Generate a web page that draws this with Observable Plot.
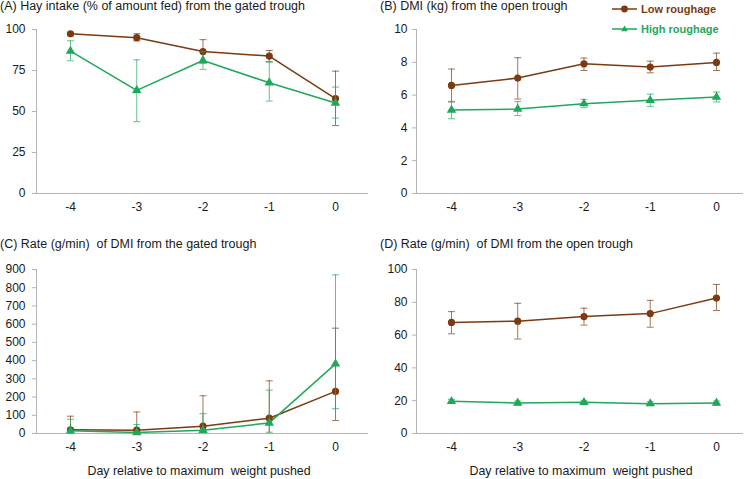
<!DOCTYPE html>
<html><head><meta charset="utf-8">
<script src="https://cdn.jsdelivr.net/npm/d3@7"></script>
<script src="https://cdn.jsdelivr.net/npm/@observablehq/plot@0.6"></script>
<style>
html,body{margin:0;padding:0;background:#fff;}
#root{position:relative;width:750px;height:479px;font-family:"Liberation Sans",Arial,sans-serif;color:#1a1a1a;overflow:hidden;}
.panel{position:absolute;}
.title{position:absolute;font-size:12.5px;line-height:14px;white-space:pre;color:#1a1a1a;}
.xlab{position:absolute;font-size:12.4px;line-height:14px;white-space:pre;transform:translateX(-50%);}
.leg{position:absolute;font-size:11px;font-weight:bold;white-space:nowrap;display:flex;align-items:center;}
</style></head>
<body><div id="root"></div>
<script>
const days = [-4, -3, -2, -1, 0];
const seriesNames = ["Low roughage", "High roughage"];
const colors = ["#7c3a12", "#1ea85a"];

// (A) Hay intake (%)
const aLow = [97.4, 95.0, 86.6, 83.8, 57.8];
const aLowLo = [96.4, 93.0, 79.5, 80.4, 41.4];
const aLowHi = [98.3, 97.4, 93.8, 87.2, 74.6];
const aHigh = [86.8, 62.9, 81.1, 67.5, 55.2];
const aHighLo = [80.9, 43.8, 75.7, 56.4, 46.0];
const aHighHi = [93.1, 81.5, 86.5, 80.1, 64.9];
// (B) DMI (kg)
const bLow = [6.59, 7.04, 7.91, 7.71, 7.99];
const bLowLo = [5.58, 5.76, 7.50, 7.36, 7.50];
const bLowHi = [7.59, 8.28, 8.26, 8.07, 8.56];
const bHigh = [5.09, 5.15, 5.48, 5.68, 5.88];
const bHighLo = [4.56, 4.75, 5.23, 5.31, 5.58];
const bHighHi = [5.62, 5.60, 5.74, 6.06, 6.19];
// (C) Rate gated
const cLow = [20, 18, 40, 84, 231];
const cLowLo = [0, 0, 0, 0, 71];
const cLowHi = [95, 118, 207, 289, 578];
const cHigh = [15, 5, 18, 58, 382];
const cHighLo = [0, 0, 0, 7, 136];
const cHighHi = [78, 49, 109, 238, 871];
// (D) Rate open
const dLow = [67.7, 68.5, 71.3, 73.1, 82.6];
const dLowLo = [60.8, 57.6, 66.1, 64.8, 75.0];
const dLowHi = [74.3, 79.4, 76.4, 81.2, 90.9];
const dHigh = [19.6, 18.6, 19.0, 18.2, 18.6];
const dHighLo = [18.4, 17.4, 17.8, 17.0, 17.4];
const dHighHi = [20.8, 19.8, 20.2, 19.4, 19.8];

const titles = [
  "(A) Hay intake (% of amount fed) from the gated trough",
  "(B) DMI (kg) from the open trough",
  "(C) Rate (g/min)  of DMI from the gated trough",
  "(D) Rate (g/min)  of DMI from the open trough"
];
const yTicks = [[0,25,50,75,100],[0,2,4,6,8,10],[0,100,200,300,400,500,600,700,800,900],[0,20,40,60,80,100]];
const xLabel = "Day relative to maximum  weight pushed";

function rows(low, lowLo, lowHi, high, highLo, highHi) {
  const out = [];
  days.forEach((d, i) => {
    out.push({day: d, s: 0, v: low[i], lo: lowLo[i], hi: lowHi[i]});
  });
  days.forEach((d, i) => {
    out.push({day: d, s: 1, v: high[i], lo: highLo[i], hi: highHi[i]});
  });
  return out;
}
const panels = [
  {data: rows(aLow,aLowLo,aLowHi,aHigh,aHighLo,aHighHi), ymax: 100, left: 0, top: 0, ml: 36, xd: [-4.513, 0.498], pad: 7},
  {data: rows(bLow,bLowLo,bLowHi,bHigh,bHighLo,bHighHi), ymax: 10, left: 375, top: 0, ml: 41, xd: [-4.528, 0.408], pad: 5},
  {data: rows(cLow,cLowLo,cLowHi,cHigh,cHighLo,cHighHi), ymax: 900, left: 0, top: 240, ml: 36, xd: [-4.513, 0.498], pad: 7},
  {data: rows(dLow,dLowLo,dLowHi,dHigh,dHighLo,dHighHi), ymax: 100, left: 375, top: 240, ml: 41, xd: [-4.528, 0.408], pad: 5}
];

const capSymbol = {draw(ctx, size) { const r = Math.sqrt(size / Math.PI); ctx.moveTo(-r, 0); ctx.lineTo(r, 0); }};
const root = document.getElementById("root");
const axisGray = "#b4b4b4";

panels.forEach((p, k) => {
  const low = p.data.filter(d => d.s === 0), high = p.data.filter(d => d.s === 1);
  const marks = [
    Plot.ruleY([0], {stroke: axisGray, strokeWidth: 1}),
    Plot.ruleX([p.xd[0]], {stroke: axisGray, strokeWidth: 1}),
    Plot.axisY({ticks: yTicks[k], tickSize: 4, tickPadding: p.pad, stroke: axisGray, fill: "#1a1a1a", label: null, fontSize: 12, tickFormat: d => String(d)}),
    Plot.axisX({ticks: days, tickSize: 0, tickPadding: 9, fill: "#1a1a1a", label: null, fontSize: 12, tickFormat: d => String(d)})
  ];
  [0, 1].forEach(s => {
    const ser = s === 0 ? low : high;
    const c = colors[s];
    marks.push(
      Plot.ruleX(ser, {x: "day", y1: d => Math.max(0, d.lo), y2: "hi", stroke: c, strokeOpacity: 0.7, strokeWidth: 1}),
      Plot.dot(ser, {x: "day", y: "hi", symbol: capSymbol, r: 3.5, stroke: c, strokeOpacity: 0.7, strokeWidth: 1}),
      Plot.dot(ser.filter(d => d.lo > 0), {x: "day", y: "lo", symbol: capSymbol, r: 3.5, stroke: c, strokeOpacity: 0.7, strokeWidth: 1}),
      Plot.line(ser, {x: "day", y: "v", stroke: c, strokeWidth: 1.5}),
      s === 0
        ? Plot.dot(ser, {x: "day", y: "v", r: 3.6, fill: c, stroke: null, symbol: "circle"})
        : Plot.dot(ser, {x: "day", y: "v", r: 3.5, fill: c, stroke: null, symbol: "triangle"})
    );
  });
  const chart = Plot.plot({
    width: 375, height: 240,
    marginLeft: p.ml, marginRight: 7, marginTop: 29, marginBottom: 47,
    x: {type: "linear", domain: p.xd, axis: null},
    y: {domain: [0, p.ymax], axis: null},
    style: {fontFamily: "Liberation Sans, Arial, sans-serif", color: "#1a1a1a", background: "transparent", overflow: "visible"},
    marks
  });
  const div = document.createElement("div");
  div.className = "panel";
  div.style.left = p.left + "px"; div.style.top = p.top + "px";
  div.appendChild(chart);
  root.appendChild(div);
  const t = document.createElement("div");
  t.className = "title";
  t.textContent = titles[k];
  t.style.left = (p.left === 0 ? 0 : p.left + 5) + "px";
  t.style.top = (p.top === 0 ? -1 : p.top - 3) + "px";
  root.appendChild(t);
  if (p.top > 0) {
    const xl = document.createElement("div");
    xl.className = "xlab";
    xl.textContent = xLabel;
    xl.style.left = (p.left + (p.left === 0 ? 199 : 206)) + "px";
    xl.style.top = "464px";
    root.appendChild(xl);
  }
});

// legend
seriesNames.forEach((name, i) => {
  const item = document.createElement("div");
  item.className = "leg";
  item.style.left = "612px";
  item.style.top = (i === 0 ? 1 : 21) + "px";
  item.style.color = colors[i];
  const sym = i === 0
    ? `<circle cx="12.5" cy="8" r="3.4" fill="${colors[i]}"/>`
    : `<path d="M12.5,4.6 L15.8,10.3 L9.2,10.3 Z" fill="${colors[i]}"/>`;
  item.innerHTML = `<svg width="28" height="16" style="margin-right:1px"><line x1="0" x2="25" y1="8" y2="8" stroke="${colors[i]}" stroke-width="1.5"/>${sym}</svg><span>${name}</span>`;
  root.appendChild(item);
});
</script></body></html>
